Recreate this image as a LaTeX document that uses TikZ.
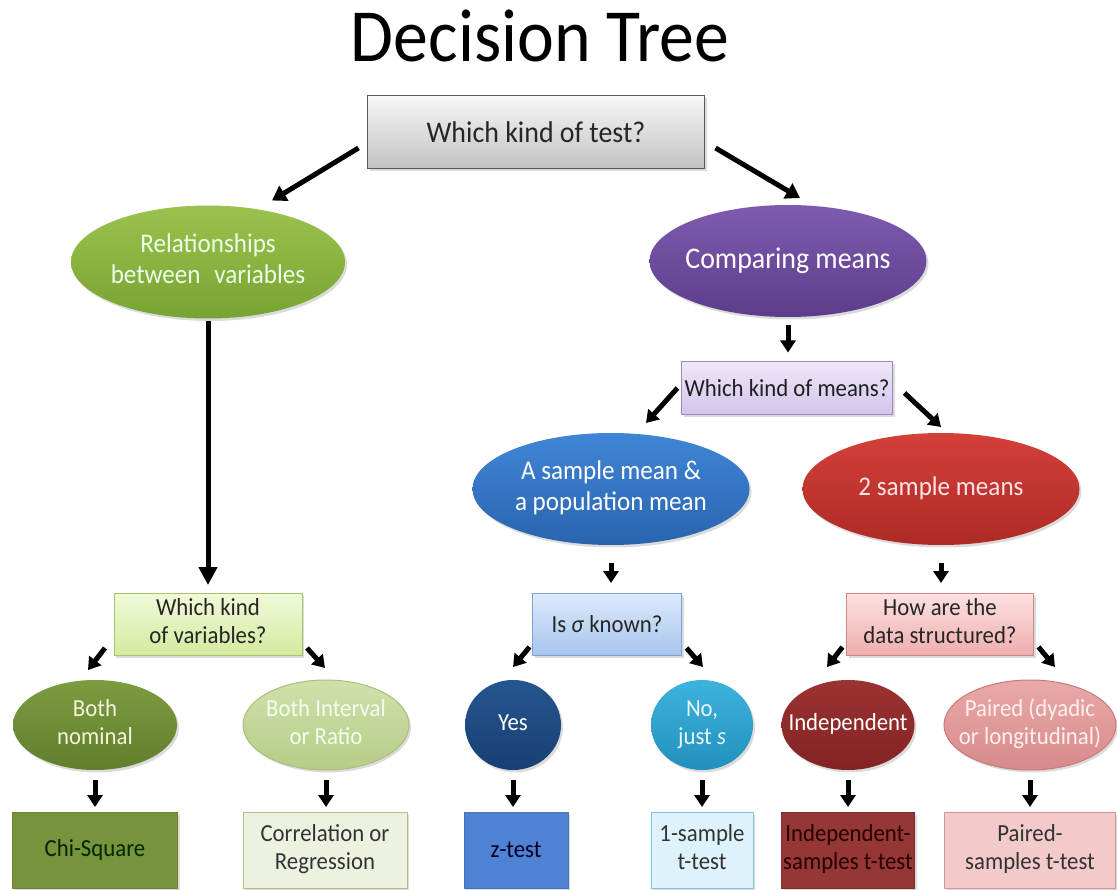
\documentclass[tikz,border=0pt]{standalone}
\usepackage{fontspec}
\setmainfont{Carlito}[FakeStretch=0.93]
\usetikzlibrary{arrows.meta,shapes.geometric,shadows,calc}
\newcommand{\ctxt}[1]{\makebox[0pt]{\begin{tabular}{@{}c@{}}#1\end{tabular}}}
\definecolor{relA}{HTML}{9CC24E}\definecolor{relB}{HTML}{78A332}
\definecolor{cmpA}{HTML}{7E5BB0}\definecolor{cmpB}{HTML}{5C3D8A}
\definecolor{mnA}{HTML}{EEE7F8}\definecolor{mnB}{HTML}{D3C4EB}\definecolor{mnD}{HTML}{9C8BBF}
\definecolor{smA}{HTML}{4086D6}\definecolor{smB}{HTML}{2964AE}
\definecolor{twA}{HTML}{D4403A}\definecolor{twB}{HTML}{AE2A26}
\definecolor{vaA}{HTML}{F1F9DA}\definecolor{vaB}{HTML}{D4EA9E}\definecolor{vaD}{HTML}{A8C46B}
\definecolor{sgA}{HTML}{DDEAFB}\definecolor{sgB}{HTML}{A7C5EE}\definecolor{sgD}{HTML}{7EA2D4}
\definecolor{hwA}{HTML}{FCE1E1}\definecolor{hwB}{HTML}{EFAEAE}\definecolor{hwD}{HTML}{CD8585}
\definecolor{bnA}{HTML}{7C9C40}\definecolor{bnB}{HTML}{617E2C}
\definecolor{biA}{HTML}{D0E0AC}\definecolor{biB}{HTML}{B6CC86}\definecolor{biD}{HTML}{A9BF7A}
\definecolor{ysA}{HTML}{25568F}\definecolor{ysB}{HTML}{183F73}
\definecolor{noA}{HTML}{3DB3DC}\definecolor{noB}{HTML}{2290BE}
\definecolor{inA}{HTML}{9C3232}\definecolor{inB}{HTML}{822323}
\definecolor{paA}{HTML}{EAA9A9}\definecolor{paB}{HTML}{D78A8A}\definecolor{paD}{HTML}{C87B7B}
\definecolor{chiF}{HTML}{77933C}\definecolor{chiD}{HTML}{6A8434}
\definecolor{corF}{HTML}{EDF2E0}\definecolor{corD}{HTML}{AEC08A}
\definecolor{ztF}{HTML}{4F82D2}\definecolor{ztD}{HTML}{4574C0}
\definecolor{oneF}{HTML}{DDF2FB}\definecolor{oneD}{HTML}{7FC4E0}
\definecolor{isF}{HTML}{953735}\definecolor{isD}{HTML}{7E2B2A}
\definecolor{psF}{HTML}{F3CACA}\definecolor{psD}{HTML}{D59595}
\begin{document}
\begin{tikzpicture}[x=1pt,y=-1pt,
  every node/.style={inner sep=0pt, outer sep=0pt},
  box/.style={rectangle, line width=1pt, align=center},
  ell/.style={ellipse, line width=1pt},
  shad/.style={drop shadow={opacity=0.28, shadow xshift=2pt, shadow yshift=-2.5pt}},
  f23/.style={font=\fontsize{24.5}{28.5}\selectfont},
  f25/.style={font=\fontsize{27}{31}\selectfont},
  arr/.style={line width=5pt, -{Triangle[width=17pt,length=14pt]}, black},
  arrs/.style={line width=5pt, -{Triangle[width=15pt,length=12pt]}, black},
]
\fill[white] (0,0) rectangle (1117,890);
\useasboundingbox (0,0) rectangle (1117,890);

% title
\node[anchor=base, font=\fontsize{75}{85}\selectfont] (title) at (540,62) {Decision Tree};

% level 1
\node[box, shad, draw=black!65, top color=black!3, bottom color=black!24,
  minimum width=337pt, minimum height=73pt, font=\fontsize{30}{36}\selectfont, text=black!85]
  (top) at (536,132) {Which kind of test?};

% level 2
\node[ell, shad, top color=relA, bottom color=relB, minimum width=274pt, minimum height=113pt,
  f25, text=white!92!green] (rel) at (208,262) {\ctxt{Relationships\\between\hspace{0.3em} variables}};
\node[ell, shad, top color=cmpA, bottom color=cmpB, minimum width=277pt, minimum height=112pt,
  font=\fontsize{30}{36}\selectfont, text=white] (cmp) at (788,261) {\ctxt{Comparing means}};

% level 3
\node[box, shad, draw=mnD, top color=mnA, bottom color=mnB, minimum width=211pt, minimum height=53pt,
  f23, text=black!88] (means) at (787,388) {Which kind of means?};
\node[ell, shad, top color=smA, bottom color=smB, minimum width=277pt, minimum height=112pt,
  f25, text=white] (samp) at (611,489) {\ctxt{A sample mean \&\\a population mean}};
\node[ell, shad, top color=twA, bottom color=twB, minimum width=277pt, minimum height=112pt,
  f25, text=white!90!red] (two) at (941,489) {\ctxt{2 sample means}};

% question boxes
\node[box, shad, draw=vaD, top color=vaA, bottom color=vaB, minimum width=188pt, minimum height=62pt,
  f23, text=black!85] (var) at (208,624) {\ctxt{Which kind\\of variables?}};
\node[box, shad, draw=sgD, top color=sgA, bottom color=sgB, minimum width=149pt, minimum height=62pt,
  f23, text=black!85] (sigma) at (607,624) {Is \textit{σ} known?};
\node[box, shad, draw=hwD, top color=hwA, bottom color=hwB, minimum width=187pt, minimum height=62pt,
  f23, text=black!85] (how) at (940,624) {\ctxt{How are the\\data structured?}};

% answer ellipses
\node[ell, shad, top color=bnA, bottom color=bnB, minimum width=164pt, minimum height=90pt,
  f23, text=white!90!olive] (bn) at (95,725) {\ctxt{Both\\nominal}};
\node[ell, shad, draw=biD, top color=biA, bottom color=biB, minimum width=166pt, minimum height=90pt,
  f23, text=white!94!green] (bi) at (326,725) {\ctxt{Both Interval\\or Ratio}};
\node[ell, shad, top color=ysA, bottom color=ysB, minimum width=96pt, minimum height=90pt,
  f23, text=white] (yes) at (513,725) {\ctxt{Yes}};
\node[ell, shad, top color=noA, bottom color=noB, minimum width=102pt, minimum height=90pt,
  f23, text=white!92!cyan] (no) at (702,725) {\ctxt{No,\\just \textit{s}}};
\node[ell, shad, top color=inA, bottom color=inB, minimum width=133pt, minimum height=90pt,
  f23, text=white] (ind) at (848,725) {\ctxt{Independent}};
\node[ell, shad, draw=paD, top color=paA, bottom color=paB, minimum width=172pt, minimum height=90pt,
  f23, text=white!94!red] (pair) at (1030,725) {\ctxt{Paired (dyadic\\or longitudinal)}};

% result boxes
\node[box, shad, draw=chiD, fill=chiF, minimum width=165pt, minimum height=76pt, f23, text=black!85!green]
  (chi) at (95,850) {Chi-Square};
\node[box, shad, draw=corD, fill=corF, minimum width=164pt, minimum height=76pt, f23, text=black!80]
  (cor) at (325,850) {\ctxt{Correlation or\\Regression}};
\node[box, shad, draw=ztD, fill=ztF, minimum width=104pt, minimum height=76pt, f23, text=black!85!blue]
  (zt) at (516,850) {z-test};
\node[box, shad, draw=oneD, fill=oneF, minimum width=102pt, minimum height=76pt, f23, text=black!80]
  (one) at (702,850) {\ctxt{1-sample\\t-test}};
\node[box, shad, draw=isD, fill=isF, minimum width=133pt, minimum height=76pt, f23, text=black!85!red]
  (inds) at (848,850) {\ctxt{Independent-\\samples t-test}};
\node[box, shad, draw=psD, fill=psF, minimum width=171pt, minimum height=76pt, f23, text=black!80]
  (pairs) at (1030,850) {\ctxt{Paired-\\samples t-test}};

% connectors
\draw[arr] ([xshift=-9pt,yshift=-16pt]top.west) -- ([xshift=64pt,yshift=5pt]rel.north);
\draw[arr] ([xshift=11pt,yshift=-16pt]top.east) -- ([xshift=12pt,yshift=7pt]cmp.north);
\draw[line width=5pt, -{Triangle[width=18pt,length=18pt]}] ([yshift=-3pt]rel.south) -- ([yshift=8pt]rel.south |- var.north);
\draw[arrs] ([yshift=-8pt]cmp.south) -- ([yshift=9pt]cmp.south |- means.north);
\draw[arrs] ([xshift=-4pt]means.west) -- ([xshift=35pt,yshift=10pt]samp.north);
\draw[arrs] ([xshift=12pt,yshift=-5pt]means.east) -- ([yshift=6pt]two.north);
\draw[arrs] ([yshift=-18pt]samp.south) -- ([yshift=10pt]samp.south |- sigma.north);
\draw[arrs] ([yshift=-18pt]two.south) -- ([yshift=10pt]two.south |- how.north);
\draw[arrs] ([xshift=-9pt,yshift=7pt]var.south west) -- ([xshift=-7pt,yshift=10pt]bn.north);
\draw[arrs] ([xshift=5pt,yshift=7pt]var.south east) -- ([xshift=-1pt,yshift=12pt]bi.north);
\draw[arrs] ([xshift=-3pt,yshift=8pt]sigma.south west) -- ([yshift=13pt]yes.north);
\draw[arrs] ([xshift=5pt,yshift=7pt]sigma.south east) -- ([xshift=1pt,yshift=13pt]no.north);
\draw[arrs] ([xshift=-4pt,yshift=8pt]how.south west) -- ([xshift=-21pt,yshift=13pt]ind.north);
\draw[arrs] ([xshift=5pt,yshift=8pt]how.south east) -- ([xshift=25pt,yshift=13pt]pair.north);
\draw[arrs] ([yshift=-10pt]bn.south) -- ([yshift=5pt]bn.south |- chi.north);
\draw[arrs] ([yshift=-10pt]bi.south) -- ([yshift=5pt]bi.south |- cor.north);
\draw[arrs] ([yshift=-10pt]yes.south) -- ([yshift=5pt]yes.south |- zt.north);
\draw[arrs] ([yshift=-10pt]no.south) -- ([yshift=5pt]no.south |- one.north);
\draw[arrs] ([yshift=-10pt]ind.south) -- ([yshift=5pt]ind.south |- inds.north);
\draw[arrs] ([yshift=-10pt]pair.south) -- ([yshift=5pt]pair.south |- pairs.north);
\end{tikzpicture}
\end{document}
